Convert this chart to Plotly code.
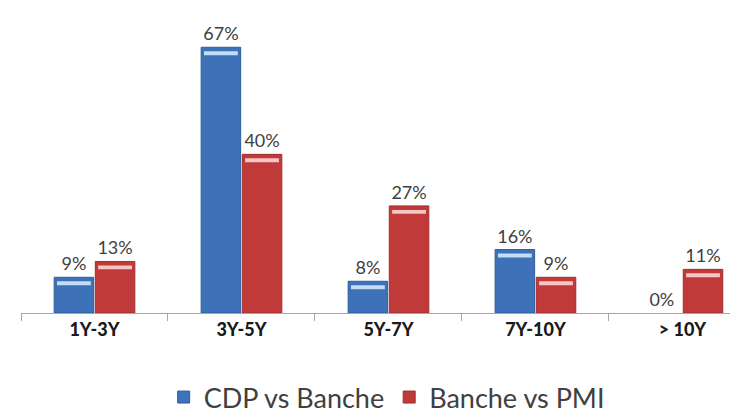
import plotly.graph_objects as go

# Maturity buckets and share of each comparison (%)
categories = ["1Y-3Y", "3Y-5Y", "5Y-7Y", "7Y-10Y", "> 10Y"]
cdp_vs_banche = [9, 67, 8, 16, 0]
banche_vs_pmi = [13, 40, 27, 9, 11]

blue = "#3D71B8"
red = "#C13A3A"


def add_series(values, name, color, edge, shine, group):
    fig.add_trace(go.Bar(
        x=categories,
        y=values,
        name=name,
        offsetgroup=group,
        marker=dict(color=color,
                    line=dict(color=edge, width=[1 if v > 0 else 0 for v in values])),
        text=[f"{v}%" for v in values],
        textposition="outside",
        cliponaxis=False,
        textfont=dict(size=18, color="#404040"),
    ))
    # light streak just under the top of each bar (excel-style bevel)
    fig.add_trace(go.Bar(
        x=categories,
        y=[1.0 if v > 0 else None for v in values],
        base=[v - 2.0 if v > 0 else None for v in values],
        offsetgroup=group,
        width=0.23,
        marker=dict(color=shine, line=dict(width=0)),
        showlegend=False,
        hoverinfo="skip",
    ))


fig = go.Figure()
add_series(cdp_vs_banche, "CDP vs Banche", blue, "#2F5E9C", "#C4DDF7", "a")
add_series(banche_vs_pmi, "Banche vs PMI", red, "#A12E2E", "#F5C6C3", "b")

# the page body adds an 8px offset, so margins are trimmed accordingly
fig.update_layout(
    width=738,
    height=414,
    margin=dict(l=13, r=8, t=0, b=108),
    paper_bgcolor="white",
    plot_bgcolor="white",
    font=dict(family="Lato, Open Sans, sans-serif", color="#404040"),
    barmode="group",
    bargap=0.44,
    bargroupgap=0.04,
    showlegend=True,
    legend=dict(
        orientation="h",
        x=0.51,
        xanchor="center",
        y=-0.275,
        yanchor="middle",
        font=dict(size=27, color="#404040"),
        itemwidth=30,
    ),
    xaxis=dict(
        range=[-0.5, 4.378],
        showline=True,
        linecolor="#A6A6A6",
        linewidth=1,
        ticks="outside",
        tickson="boundaries",
        ticklen=7,
        tickcolor="#A6A6A6",
        tickfont=dict(size=18, color="#1A1A1A", family="Lato Black, Lato, sans-serif"),
        showgrid=False,
    ),
    yaxis=dict(
        range=[0, 76.9],
        visible=False,
        showgrid=False,
    ),
)

fig.write_html("out.html")
